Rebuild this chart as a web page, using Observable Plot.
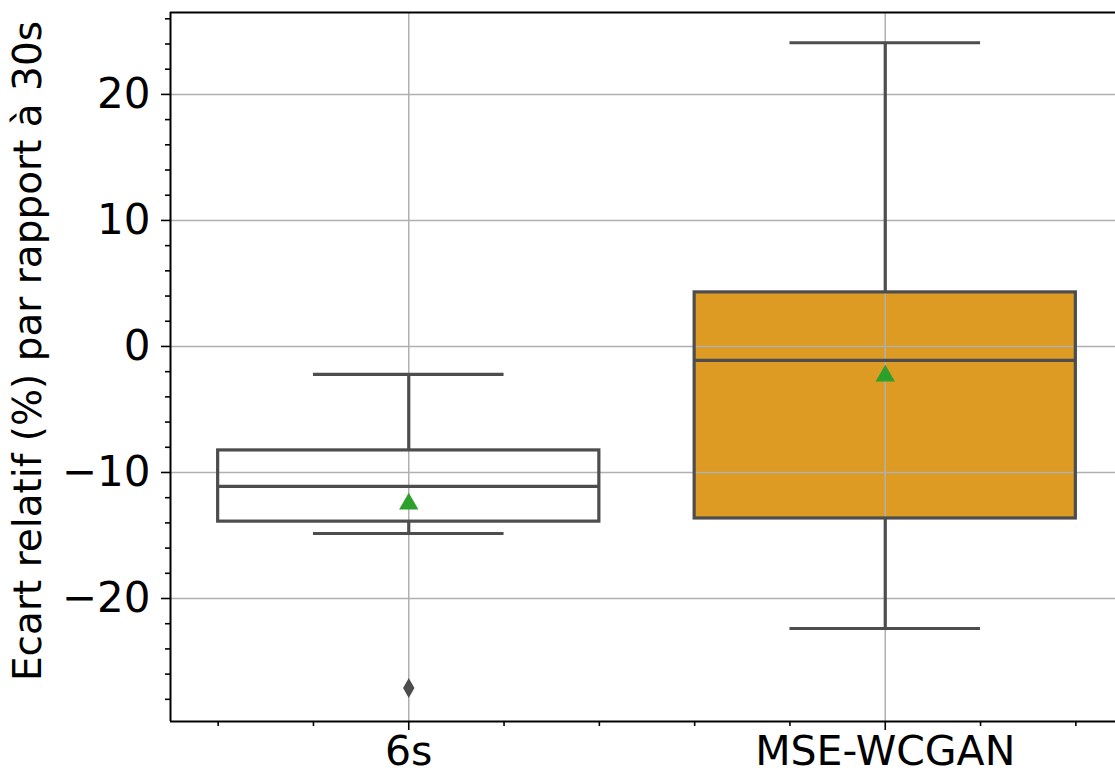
<!DOCTYPE html>
<html>
<head>
<meta charset="utf-8">
<script src="https://cdn.jsdelivr.net/npm/d3@7"></script>
<script src="https://cdn.jsdelivr.net/npm/@observablehq/plot@0.6"></script>
<style>
  html, body { margin: 0; padding: 0; background: #fff; }
  svg { display: block; }
</style>
</head>
<body>
<div id="chart"></div>
<script>
// ---- data ----
const categories = ["6s", "MSE-WCGAN"];
const whiskerLow = [-14.84, -22.38];
const quartile1 = [-13.9, -13.65];
const medians = [-11.1, -1.11];
const quartile3 = [-8.25, 4.29];
const whiskerHigh = [-2.22, 24.1];
const means = [-12.3, -2.14];
const boxFills = ["#ffffff", "#dd9b23"];
const outlierCategory = ["6s"];
const outlierValue = [-27.1];
const yTicks = [-20, -10, 0, 10, 20];
const yMinorTicks = d3.range(-28, 27, 2).filter(v => v % 10 !== 0);
const xMinorTicks = [-0.4, -0.2, 0.2, 0.4, 0.6, 0.8, 1.2, 1.4];
const yLabel = "Ecart relatif (%) par rapport à 30s";

const boxes = categories.map((c, i) => ({
  cat: c, i,
  lo: whiskerLow[i], q1: quartile1[i], med: medians[i], q3: quartile3[i], hi: whiskerHigh[i],
  mean: means[i], fill: boxFills[i]
}));
const outliers = outlierCategory.map((c, k) => ({i: categories.indexOf(c), v: outlierValue[k]}));

const yDomain = [-29.76, 26.5];
const xDomain = [-0.5, 1.4832];
const edge = "#4d4d4d";
const grid = "#b0b0b0";
const font = "DejaVu Sans, sans-serif";
const fmt = d => d < 0 ? "\u2212" + Math.abs(d) : String(d);

const chart = Plot.plot({
  width: 1115,
  height: 775,
  marginLeft: 170,
  marginRight: 0,
  marginTop: 12,
  marginBottom: 54,
  style: {fontFamily: font, background: "#fff", color: "#000"},
  x: {type: "linear", domain: xDomain, axis: null},
  y: {domain: yDomain, axis: null},
  marks: [
    // box fills
    Plot.rect(boxes, {x1: d => d.i - 0.4, x2: d => d.i + 0.4, y1: "q1", y2: "q3", fill: "fill"}),
    // grid
    Plot.ruleY(yTicks, {stroke: grid, strokeWidth: 1.5}),
    Plot.ruleX([0, 1], {stroke: grid, strokeWidth: 1.5}),
    // box edges
    Plot.rect(boxes, {x1: d => d.i - 0.4, x2: d => d.i + 0.4, y1: "q1", y2: "q3", fill: "none", stroke: edge, strokeWidth: 3.2}),
    // whiskers
    Plot.ruleX(boxes, {x: "i", y1: "q3", y2: "hi", stroke: edge, strokeWidth: 3.2}),
    Plot.ruleX(boxes, {x: "i", y1: "lo", y2: "q1", stroke: edge, strokeWidth: 3.2}),
    // caps
    Plot.ruleY(boxes, {y: "hi", x1: d => d.i - 0.2, x2: d => d.i + 0.2, stroke: edge, strokeWidth: 3.2}),
    Plot.ruleY(boxes, {y: "lo", x1: d => d.i - 0.2, x2: d => d.i + 0.2, stroke: edge, strokeWidth: 3.2}),
    // medians
    Plot.ruleY(boxes, {y: "med", x1: d => d.i - 0.4, x2: d => d.i + 0.4, stroke: edge, strokeWidth: 3.2}),
    // means
    Plot.dot(boxes, {x: "i", y: "mean", symbol: "triangle", r: 7.2, dy: 2.5, fill: "#2ca02c", stroke: "none"}),
    // outliers
    Plot.dot(outliers, {x: "i", y: "v", symbol: "diamond", r: 6, fill: edge, stroke: "none"}),
    // axes frame (left, top, bottom)
    Plot.ruleX([xDomain[0]], {stroke: "#000", strokeWidth: 2}),
    Plot.ruleY([yDomain[0]], {stroke: "#000", strokeWidth: 2}),
    Plot.ruleY([yDomain[1]], {stroke: "#000", strokeWidth: 2}),
    // y axis
    Plot.axisY(yTicks, {tickSize: 9, tickPadding: 11, tickFormat: fmt, fontSize: 42, stroke: "#000", strokeWidth: 1.6}),
    Plot.axisY(yMinorTicks, {tickSize: 5, tickFormat: () => "", stroke: "#000", strokeWidth: 1.6, label: null}),
    // x axis
    Plot.axisX([0, 1], {tickSize: 9, tickPadding: 5, tickFormat: d => categories[d], fontSize: 41, stroke: "#000", strokeWidth: 1.6, label: null}),
    Plot.axisX(xMinorTicks, {tickSize: 5, tickFormat: () => "", stroke: "#000", strokeWidth: 1.6, label: null}),
    // y label
    Plot.text([yLabel], {frameAnchor: "left", dx: -142, dy: -16, rotate: -90, textAnchor: "middle", fontSize: 39, fill: "#000", text: d => d})
  ]
});
document.getElementById("chart").appendChild(chart);
</script>
</body>
</html>
